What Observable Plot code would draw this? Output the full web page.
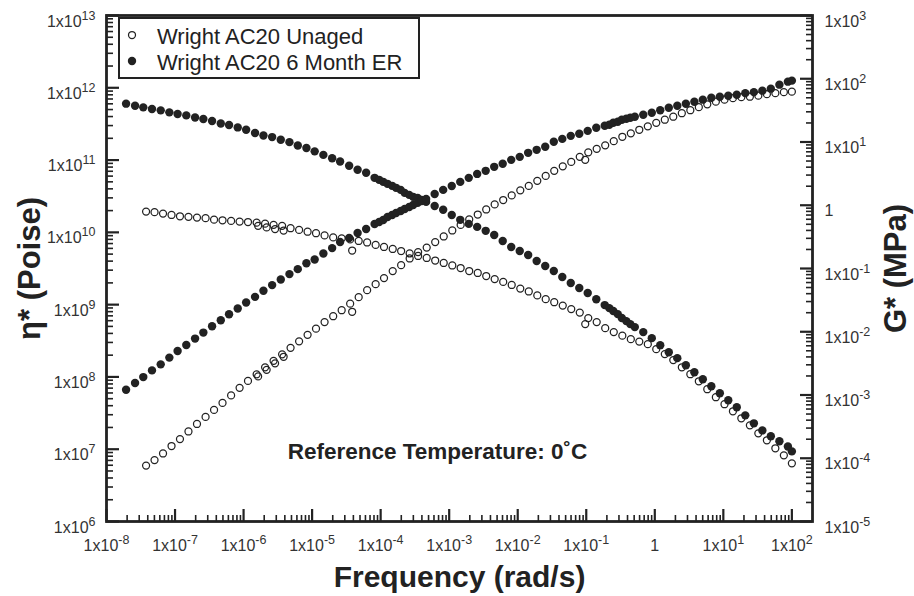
<!DOCTYPE html>
<html>
<head>
<meta charset="utf-8">
<script src="https://cdn.jsdelivr.net/npm/d3@7"></script>
<script src="https://cdn.jsdelivr.net/npm/@observablehq/plot@0.6"></script>
<style>
  html, body { margin: 0; padding: 0; background: #fff; }
  #wrap { position: relative; width: 914px; height: 596px; font-family: "Liberation Sans", Arial, Helvetica, sans-serif; }
  #wrap > svg { position: absolute; left: 0; top: 0; }
  #legend { position: absolute; left: 118px; top: 17px; width: 298px; height: 58px; border: 2px solid #222; background: #fff; }
  #legend svg { position: absolute; left: 0; top: 0; }
</style>
</head>
<body>
<div id="wrap"></div>
<script>
// ---------------- data ----------------
// Wright AC20 6 Month ER (filled circles)
const erFreq = [
  1.93e-8, 2.61e-8, 3.44e-8, 4.61e-8, 6.18e-8, 8.26e-8, 1.09e-7, 1.46e-7, 1.96e-7, 2.59e-7,
  3.47e-7, 4.65e-7, 6.14e-7, 8.22e-7, 1.09e-6, 1.47e-6, 1.95e-6, 2.61e-6, 3.49e-6, 4.67e-6,
  6.18e-6, 8.26e-6, 1.09e-5, 1.46e-5, 1.96e-5, 2.56e-5, 3.47e-5, 4.61e-5, 6.14e-5, 8.16e-5,
  9.51e-5, 1.09e-4, 1.26e-4, 1.47e-4, 1.68e-4, 1.96e-4, 2.24e-4, 2.61e-4, 2.98e-4, 3.47e-4,
  3.97e-4, 4.61e-4, 6.14e-4, 8.17e-4, 1.09e-3, 1.45e-3, 1.93e-3, 2.56e-3, 3.41e-3, 4.54e-3,
  6.04e-3, 8.04e-3, 1.07e-2, 1.42e-2, 1.89e-2, 2.52e-2, 3.36e-2, 4.47e-2, 5.94e-2, 7.91e-2,
  1.05e-1, 1.40e-1, 1.86e-1, 2.17e-1, 2.48e-1, 2.88e-1, 3.30e-1, 3.84e-1, 4.39e-1, 5.11e-1,
  6.79e-1, 9.04e-1, 1.20, 1.60, 2.13, 2.84, 3.78, 5.02, 6.68, 8.89,
  11.8, 15.7, 20.9, 27.9, 37.1, 49.3, 65.8, 87.5, 100
];
const erEta = [
  6.03e11, 5.65e11, 5.36e11, 5.09e11, 4.87e11, 4.57e11, 4.34e11, 4.15e11, 3.89e11, 3.70e11,
  3.47e11, 3.21e11, 3.05e11, 2.83e11, 2.63e11, 2.37e11, 2.19e11, 2.08e11, 1.91e11, 1.77e11,
  1.59e11, 1.47e11, 1.32e11, 1.18e11, 1.06e11, 9.55e10, 8.33e10, 7.33e10, 6.67e10, 5.68e10,
  5.33e10, 5.00e10, 4.69e10, 4.40e10, 4.13e10, 3.87e10, 3.52e10, 3.30e10, 3.10e10, 3.00e10,
  2.81e10, 2.64e10, 2.32e10, 2.05e10, 1.74e10, 1.49e10, 1.31e10, 1.19e10, 1.05e10, 9.21e9,
  7.60e9, 6.28e9, 5.52e9, 4.86e9, 4.02e9, 3.43e9, 2.92e9, 2.41e9, 1.99e9, 1.70e9,
  1.45e9, 1.19e9, 9.86e8, 8.95e8, 8.15e8, 7.40e8, 6.52e8, 5.92e8, 5.38e8, 4.89e8,
  4.17e8, 3.44e8, 2.75e8, 2.20e8, 1.82e8, 1.45e8, 1.16e8, 9.29e7, 7.43e7, 5.94e7,
  4.75e7, 3.80e7, 2.94e7, 2.28e7, 1.82e7, 1.51e7, 1.29e7, 1.09e7, 9.33e6
];
const erG = [
  1.21e-3, 1.55e-3, 1.92e-3, 2.45e-3, 3.05e-3, 3.90e-3, 4.97e-3, 6.18e-3, 7.80e-3, 9.70e-3,
  1.22e-2, 1.52e-2, 1.89e-2, 2.33e-2, 2.90e-2, 3.56e-2, 4.44e-2, 5.46e-2, 6.71e-2, 8.15e-2,
  9.77e-2, 0.121, 0.139, 0.173, 0.210, 0.262, 0.303, 0.364, 0.421, 0.506,
  0.543, 0.585, 0.653, 0.702, 0.755, 0.813, 0.873, 0.940, 1.01, 1.09,
  1.17, 1.26, 1.51, 1.75, 2.02, 2.34, 2.71, 3.13, 3.50, 4.05,
  4.52, 5.22, 5.82, 6.74, 7.52, 8.39, 10.1, 11.2, 12.5, 13.5,
  15.0, 16.8, 18.1, 18.7, 20.1, 20.9, 22.5, 23.3, 24.2, 25.1,
  27.0, 29.0, 31.8, 34.8, 37.5, 40.3, 43.4, 46.7, 50.1, 52.0,
  54.0, 56.0, 59.2, 61.4, 64.8, 69.7, 80.6, 89.9, 93.3
];

// Wright AC20 Unaged (open circles)
const unFreq = [
  3.78e-8, 5.02e-8, 6.68e-8, 8.89e-8, 1.18e-7, 1.57e-7, 2.09e-7, 2.79e-7, 3.71e-7, 4.93e-7,
  6.58e-7, 8.75e-7, 1.16e-6, 1.55e-6, 2.06e-6, 2.74e-6, 3.65e-6, 1.63e-6, 2.17e-6, 2.88e-6,
  3.84e-6, 4.85e-6, 6.46e-6, 8.59e-6, 1.14e-5, 1.52e-5, 2.03e-5, 2.70e-5, 3.59e-5, 3.84e-5,
  4.78e-5, 6.35e-5, 8.45e-5, 1.12e-4, 1.50e-4, 1.99e-4, 2.65e-4, 3.52e-4, 4.70e-4, 6.25e-4,
  8.32e-4, 1.11e-3, 1.47e-3, 1.96e-3, 2.61e-3, 3.47e-3, 4.61e-3, 6.14e-3, 8.17e-3, 1.09e-2,
  1.45e-2, 1.93e-2, 2.56e-2, 3.41e-2, 4.54e-2, 6.04e-2, 8.04e-2, 9.66e-2, 1.07e-1, 1.42e-1,
  1.89e-1, 2.52e-1, 3.36e-1, 4.47e-1, 5.94e-1, 7.91e-1, 1.05, 1.40, 1.86, 2.48,
  3.30, 4.39, 5.83, 7.78, 10.4, 13.8, 18.3, 24.4, 32.4, 43.2,
  57.4, 76.4, 100
];
const unEta = [
  1.94e10, 1.90e10, 1.82e10, 1.74e10, 1.67e10, 1.64e10, 1.60e10, 1.57e10, 1.50e10, 1.47e10,
  1.44e10, 1.41e10, 1.39e10, 1.36e10, 1.32e10, 1.27e10, 1.23e10, 1.23e10, 1.17e10, 1.11e10,
  1.06e10, 1.14e10, 1.08e10, 1.02e10, 9.72e9, 9.06e9, 8.51e9, 8.24e9, 7.98e9, 5.61e9,
  7.60e9, 7.24e9, 6.70e9, 6.28e9, 5.89e9, 5.52e9, 5.10e9, 4.71e9, 4.42e9, 4.08e9,
  3.77e9, 3.48e9, 3.21e9, 2.92e9, 2.74e9, 2.49e9, 2.26e9, 2.06e9, 1.87e9, 1.67e9,
  1.52e9, 1.34e9, 1.19e9, 1.08e9, 9.70e8, 8.67e8, 7.76e8, 5.38e8, 6.52e8, 5.73e8,
  4.73e8, 4.17e8, 3.72e8, 3.33e8, 3.08e8, 2.84e8, 2.42e8, 2.07e8, 1.71e8, 1.36e8,
  1.09e8, 8.71e7, 6.76e7, 5.24e7, 4.19e7, 3.35e7, 2.68e7, 2.14e7, 1.66e7, 1.33e7,
  1.03e7, 8.22e6, 6.37e6
];
const unG = [
  7.66e-5, 9.35e-5, 1.19e-4, 1.56e-4, 2.01e-4, 2.65e-4, 3.48e-4, 4.50e-4, 5.81e-4, 7.50e-4,
  9.86e-4, 1.30e-3, 1.67e-3, 2.12e-3, 2.74e-3, 3.47e-3, 4.40e-3, 1.97e-3, 2.50e-3, 3.17e-3,
  4.02e-3, 5.57e-3, 7.06e-3, 8.95e-3, 1.12e-2, 1.42e-2, 1.76e-2, 2.19e-2, 2.78e-2, 2.07e-2,
  3.52e-2, 4.55e-2, 5.66e-2, 7.05e-2, 9.10e-2, 0.113, 0.144, 0.182, 0.214, 0.262,
  0.321, 0.399, 0.488, 0.596, 0.714, 0.857, 1.03, 1.21, 1.43, 1.72,
  2.02, 2.43, 2.91, 3.50, 4.12, 4.85, 5.82, 5.22, 6.87, 7.80,
  8.87, 10.3, 12.1, 13.7, 15.6, 17.7, 20.1, 22.5, 25.1, 28.5,
  31.8, 35.5, 39.5, 43.4, 46.7, 49.3, 51.1, 52.0, 54.0, 57.0,
  59.2, 61.4, 62.5
];

// axes, ticks and texts
const xTicks = [1e-8, 1e-7, 1e-6, 1e-5, 1e-4, 1e-3, 1e-2, 1e-1, 1, 1e1, 1e2];
const etaTicks = [1e6, 1e7, 1e8, 1e9, 1e10, 1e11, 1e12, 1e13];
const gTicks = [1e-5, 1e-4, 1e-3, 1e-2, 1e-1, 1, 1e1, 1e2, 1e3];
const seriesNames = ["Wright AC20 Unaged", "Wright AC20 6 Month ER"];
const xTitle = "Frequency (rad/s)";
const etaTitle = "η* (Poise)";
const gTitle = "G* (MPa)";
const noteText = "Reference Temperature: 0˚C";

// ---------------- layout ----------------
const W = 914, H = 596;
const M = {top: 15, right: 102, bottom: 75, left: 106};
const plotW = W - M.left - M.right, plotH = H - M.top - M.bottom;
const xDomain = [1e-8, 2e2];
const ink = "#222";
const font = '"Liberation Sans", Arial, Helvetica, sans-serif';
const filledR = 4.2, openR = 3.5, openSW = 1.25;

const erRows = erFreq.map((f, i) => ({f, eta: erEta[i], g: erG[i]}));
const unRows = unFreq.map((f, i) => ({f, eta: unEta[i], g: unG[i]}));

const fmt = d => {
  const e = Math.round(Math.log10(d));
  return e === 0 ? "1" : `1x10^${e}`;
};
function minors(majors, dom) {
  const out = [];
  for (const m of majors) for (let k = 2; k <= 9; k++) {
    const v = m * k;
    if (v > dom[0] && v < dom[1]) out.push(v);
  }
  return out;
}

const baseStyle = {fontFamily: font, fontSize: "16px", color: ink, background: "transparent", overflow: "visible"};

// ---- plot A: eta (left axis) + frequency axis ----
const plotA = Plot.plot({
  width: W, height: H,
  marginTop: M.top, marginRight: M.right, marginBottom: M.bottom, marginLeft: M.left,
  style: baseStyle,
  x: {type: "log", domain: xDomain},
  y: {type: "log", domain: [1e6, 1e13]},
  marks: [
    Plot.dot(erRows, {x: "f", y: "eta", r: filledR, fill: ink, stroke: "none"}),
    Plot.dot(unRows, {x: "f", y: "eta", r: openR, fill: "none", stroke: ink, strokeWidth: openSW}),
    // inward ticks
    Plot.tickX(xTicks, {x: d => d, insetTop: plotH - 12, stroke: ink, strokeWidth: 2.2}),
    Plot.tickX(minors(xTicks, xDomain), {x: d => d, insetTop: plotH - 6, stroke: ink, strokeWidth: 1.6}),
    Plot.tickY(etaTicks, {y: d => d, insetRight: plotW - 13, stroke: ink, strokeWidth: 2.2}),
    Plot.tickY(minors(etaTicks, [1e6, 1e13]), {y: d => d, insetRight: plotW - 7, stroke: ink, strokeWidth: 1.6}),
    Plot.frame({stroke: ink, strokeWidth: 2.8}),
    Plot.axisX(xTicks, {tickSize: 0, tickPadding: 18, tickFormat: fmt, fontSize: 16, fill: "#333", label: null}),
    Plot.axisY(etaTicks, {anchor: "left", tickSize: 0, tickPadding: 11, tickFormat: fmt, fontSize: 16, fill: "#333", dy: 6, label: null}),
    Plot.text([xTitle], {text: d => d, frameAnchor: "bottom", textAnchor: "middle", lineAnchor: "bottom", dy: 65, fontSize: 30, fontWeight: "bold", fill: ink}),
    Plot.text([etaTitle], {text: d => d, frameAnchor: "left", textAnchor: "middle", lineAnchor: "middle", rotate: -90, dx: -76, fontSize: 31, fontWeight: "bold", fill: ink}),
    Plot.text([noteText], {text: d => d, frameAnchor: "bottom", textAnchor: "middle", lineAnchor: "bottom", dx: -22, dy: -63, fontSize: 22.5, fontWeight: "bold", fill: ink})
  ]
});

// ---- plot B: G* (right axis), same frame ----
const plotB = Plot.plot({
  width: W, height: H,
  marginTop: M.top, marginRight: M.right, marginBottom: M.bottom, marginLeft: M.left,
  style: baseStyle,
  x: {type: "log", domain: xDomain, axis: null},
  y: {type: "log", domain: [1e-5, 1e3]},
  marks: [
    Plot.dot(erRows, {x: "f", y: "g", r: filledR, fill: ink, stroke: "none"}),
    Plot.dot(unRows, {x: "f", y: "g", r: openR, fill: "none", stroke: ink, strokeWidth: openSW}),
    Plot.tickY(gTicks, {y: d => d, insetLeft: plotW - 12, stroke: ink, strokeWidth: 2.2}),
    Plot.tickY(minors(gTicks, [1e-5, 1e3]), {y: d => d, insetLeft: plotW - 6, stroke: ink, strokeWidth: 1.6}),
    Plot.axisY(gTicks, {anchor: "right", tickSize: 0, tickPadding: 12, tickFormat: fmt, fontSize: 16, fill: "#333", dy: 6, label: null}),
    Plot.text([gTitle], {text: d => d, frameAnchor: "right", textAnchor: "middle", lineAnchor: "middle", rotate: -90, dx: 84, fontSize: 31, fontWeight: "bold", fill: ink})
  ]
});

// superscript exponents in tick labels
function supify(svg) {
  d3.select(svg).selectAll('g[aria-label$="tick label"] text').each(function () {
    const t = this.textContent;
    const m = t.match(/^(.*)\^(.*)$/);
    if (!m) return;
    const sel = d3.select(this);
    sel.text(null);
    sel.append("tspan").text(m[1]);
    sel.append("tspan").attr("dy", -7).attr("font-size", 12.5).text(m[2]);
  });
}
supify(plotA);
supify(plotB);

const wrap = document.getElementById("wrap");
wrap.appendChild(plotA);
wrap.appendChild(plotB);

// legend
const legend = document.createElement("div");
legend.id = "legend";
wrap.appendChild(legend);
const lsvg = d3.select(legend).append("svg").attr("width", 298).attr("height", 58);
seriesNames.forEach((name, i) => {
  const cy = 16 + i * 26;
  const c = lsvg.append("circle").attr("cx", 12).attr("cy", cy);
  if (i === 0) c.attr("r", openR).attr("fill", "none").attr("stroke", ink).attr("stroke-width", openSW);
  else c.attr("r", filledR).attr("fill", ink);
  lsvg.append("text").attr("x", 37).attr("y", cy + 9)
    .attr("font-family", font).attr("font-size", 22).attr("fill", ink).text(name);
});
</script>
</body>
</html>
